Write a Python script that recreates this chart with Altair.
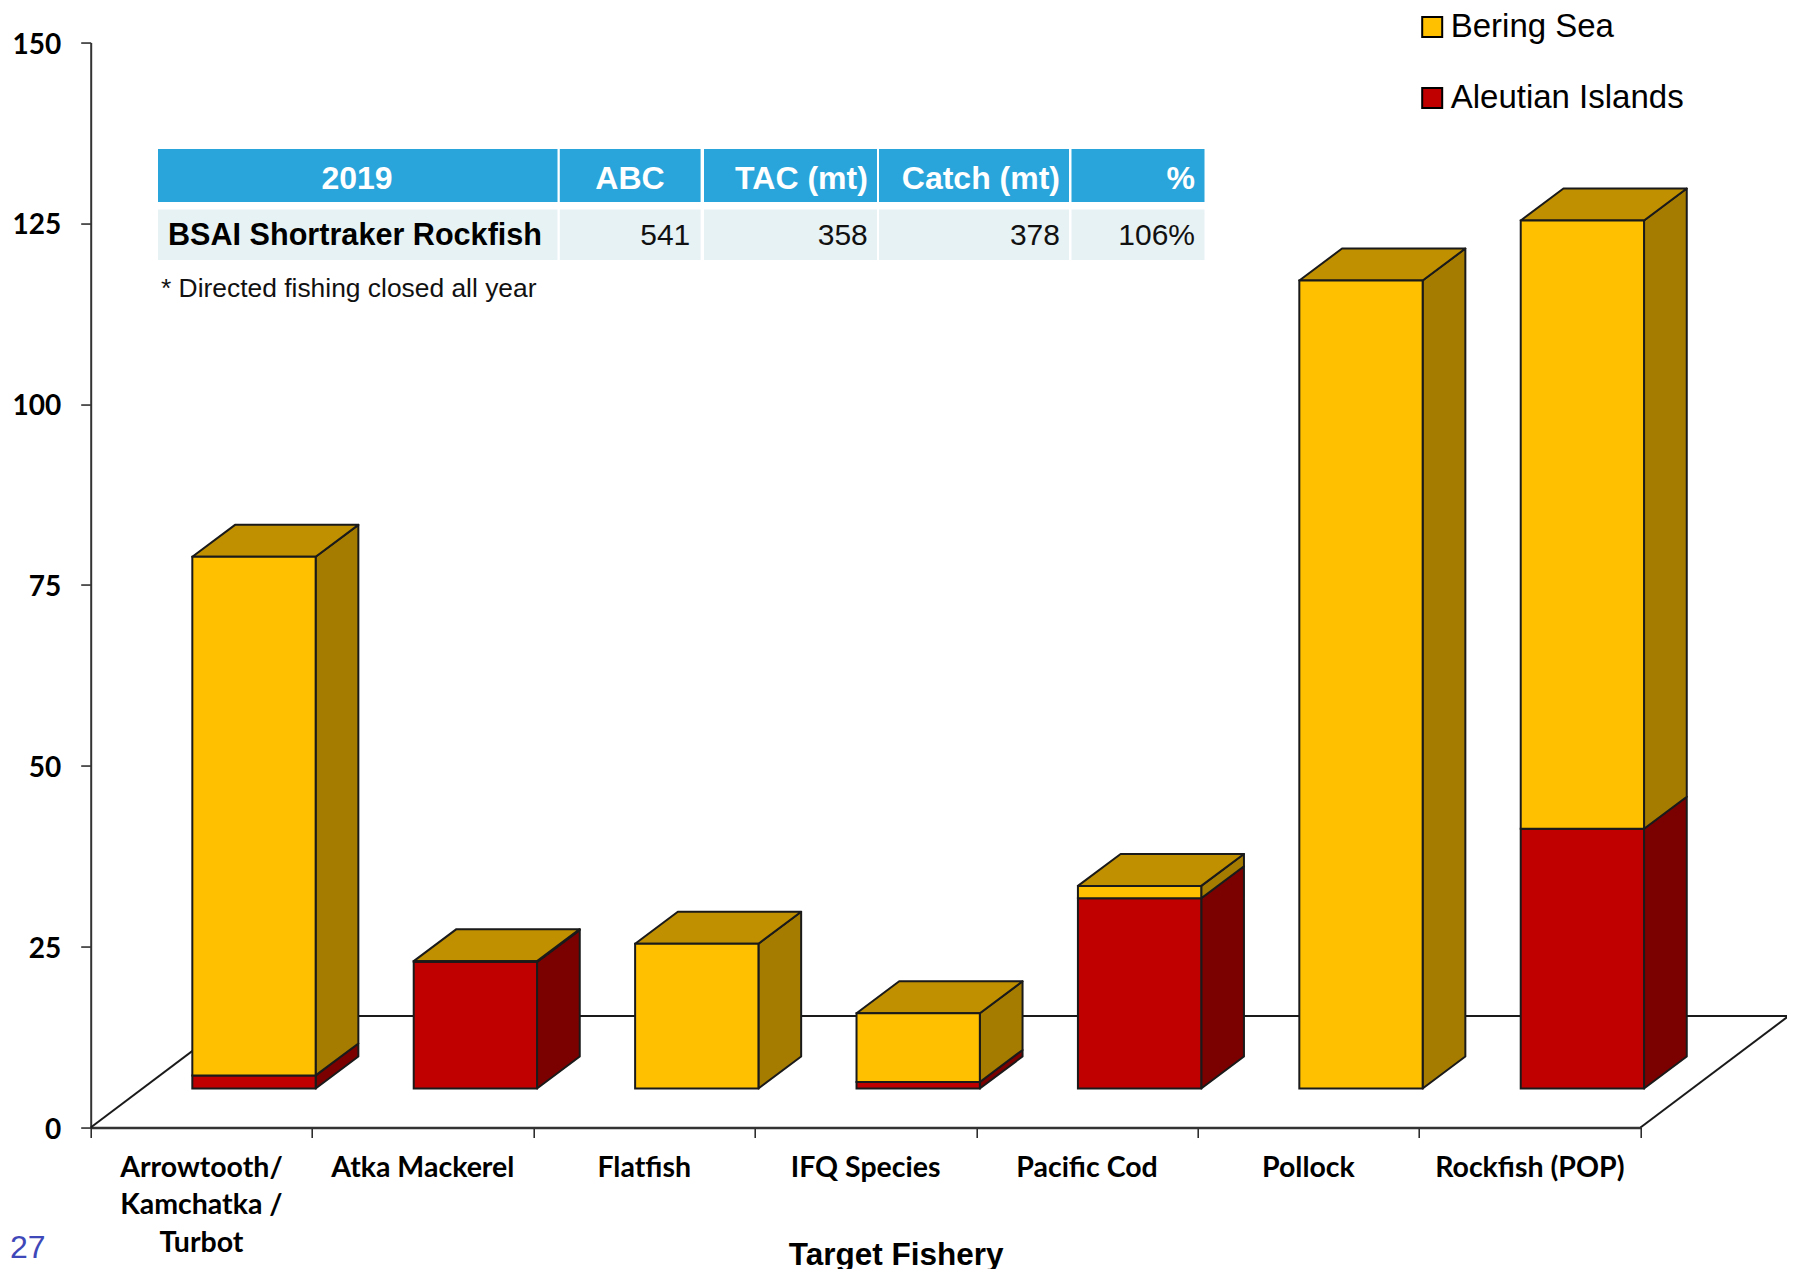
import altair as alt
import pandas as pd

# ---------- chart values ----------
fisheries = ["Arrowtooth/\nKamchatka /\nTurbot", "Atka Mackerel", "Flatfish", "IFQ Species",
             "Pacific Cod", "Pollock", "Rockfish (POP)"]
aleutian = [1.8, 17.5, 0.0, 0.9, 26.3, 0.0, 35.9]
bering = [71.7, 0.1, 20.0, 9.5, 1.7, 111.7, 84.1]
regions = ["Bering Sea", "Aleutian Islands"]
y_ticks = [0, 25, 50, 75, 100, 125, 150]

table_header = ["2019", "ABC", "TAC (mt)", "Catch (mt)", "%"]
table_row = ["BSAI Shortraker Rockfish", "541", "358", "378", "106%"]
table_note = "* Directed fishing closed all year"
page_number = "27"
x_title = "Target Fishery"

# ---------- layout (pixels on the page) ----------
X0, Y0, STEP, PPU = 90.7, 1127.5, 221.4, 7.233
W, H = 7 * STEP, 150 * PPU
def ux(px): return (px - X0) / STEP
def uy(py): return (Y0 - py) / PPU

BAR_OFF, BAR_W = 0.459, 0.557        # bar position within a category
BASE = 5.4                           # bar foot above the front floor edge
DX, DY = 0.1929, 4.42                # bar depth
FX, FY = 0.668, 15.4                 # floor depth

FRONT = {"Bering Sea": "#FFC000", "Aleutian Islands": "#C00000"}
SIDE = {"Bering Sea": "#A67C00", "Aleutian Islands": "#7B0000"}
TOP = "#C09000"
EDGE = "#1a1a1a"
SW = 2

# ---------- geometry derived from the values ----------
front_rows, side_rows, top_rows = [], [], []
for i, (a, b) in enumerate(zip(aleutian, bering)):
    xl, xr = i + BAR_OFF, i + BAR_OFF + BAR_W
    lo = BASE
    for reg, v in (("Aleutian Islands", a), ("Bering Sea", b)):
        if v <= 0:
            continue
        hi = lo + v
        front_rows.append(dict(xl=xl, xr=xr, lo=lo, hi=hi, region=reg))
        key = f"{i}-{reg}"
        side_rows += [dict(k=key, x=xr, lo=lo, hi=hi, c=SIDE[reg]),
                      dict(k=key, x=xr + DX, lo=lo + DY, hi=hi + DY, c=SIDE[reg])]
        lo = hi
    top_rows += [dict(k=str(i), x=xl, lo=lo, hi=lo),
                 dict(k=str(i), x=xl + DX, lo=lo, hi=lo + DY),
                 dict(k=str(i), x=xr, lo=lo, hi=lo + DY),
                 dict(k=str(i), x=xr + DX, lo=lo + DY, hi=lo + DY)]

floor_rows = [dict(k="left", x=0, y=0), dict(k="left", x=FX, y=FY),
              dict(k="back", x=FX, y=FY), dict(k="back", x=7 + FX, y=FY),
              dict(k="right", x=7, y=0), dict(k="right", x=7 + FX, y=FY)]

x_scale = alt.Scale(domain=[0, 7], nice=False, zero=False)
y_scale = alt.Scale(domain=[0, 150], nice=False, zero=False)
TICK_FONT = "Lato"

x_axis = alt.Axis(values=list(range(8)), labels=False, tickSize=10, tickColor="#222", tickWidth=1.5,
                  domainColor="#333", domainWidth=2.5, grid=False, title=x_title,
                  titleFont="Liberation Sans", titleFontSize=31.5, titleFontWeight="bold", titleColor="#000",
                  titleX=805, titleY=136.5, titleBaseline="alphabetic", titleAnchor="middle")
y_axis = alt.Axis(values=y_ticks, tickSize=10, tickColor="#222", tickWidth=1.5, domainColor="#333",
                  domainWidth=2, grid=False, title=None, labelFont=TICK_FONT, labelFontSize=28,
                  labelFontWeight="bold", labelColor="#000", labelPadding=20, labelOffset=2.5)

def X(f): return alt.X(f, type="quantitative", scale=x_scale, axis=x_axis)
def Y(f): return alt.Y(f, type="quantitative", scale=y_scale, axis=y_axis)

floor = alt.Chart(pd.DataFrame(floor_rows)).mark_line(color=EDGE, strokeWidth=SW).encode(
    x=X("x"), y=Y("y"), detail="k:N")

sides = alt.Chart(pd.DataFrame(side_rows)).mark_area(orient="vertical", stroke=EDGE, strokeWidth=SW,
                                                    strokeJoin="round").encode(
    x=X("x"), y=Y("lo"), y2="hi:Q", fill=alt.Fill("c:N", scale=None), detail="k:N")

tops = alt.Chart(pd.DataFrame(top_rows)).mark_area(orient="vertical", stroke=EDGE, strokeWidth=SW,
                                                  strokeJoin="round", fill=TOP).encode(
    x=X("x"), y=Y("lo"), y2="hi:Q", detail="k:N")

fronts = alt.Chart(pd.DataFrame(front_rows)).mark_bar(stroke=EDGE, strokeWidth=SW).encode(
    x=X("xl"), x2="xr:Q", y=Y("lo"), y2="hi:Q",
    color=alt.Color("region:N",
                    scale=alt.Scale(domain=regions, range=[FRONT[r] for r in regions]),
                    legend=alt.Legend(orient="none", legendX=1325, legendY=-32, title=None,
                                      symbolType="square", symbolSize=400, symbolStrokeColor="#000",
                                      symbolStrokeWidth=2, symbolOpacity=1, labelFont="Liberation Sans",
                                      labelFontSize=33, labelColor="#000", labelOffset=2, labelLimit=400,
                                      rowPadding=37, padding=0)))

# ---------- table ----------
col_edges = [(158, 557.5), (559.8, 700.6), (704, 877), (879, 1069), (1071.5, 1204.5)]
cell_rows = []
for x0, x1 in col_edges:
    cell_rows.append(dict(a=ux(x0), b=ux(x1), lo=uy(202), hi=uy(149), c="#29A5DB"))
    cell_rows.append(dict(a=ux(x0), b=ux(x1), lo=uy(260), hi=uy(209.5), c="#E7F2F5"))
cells = alt.Chart(pd.DataFrame(cell_rows)).mark_rect().encode(
    x=X("a"), x2="b:Q", y=Y("lo"), y2="hi:Q", fill=alt.Fill("c:N", scale=None))

def label(rows, **mark):
    return alt.Chart(pd.DataFrame(rows)).mark_text(**mark).encode(x=X("x"), y=Y("y"), text="t:N")

SANS = dict(font="Liberation Sans", baseline="middle")
head_y, row_y = uy(179), uy(235.5)
texts = [
    label([dict(x=ux(357), y=head_y, t=table_header[0]), dict(x=ux(630), y=head_y, t=table_header[1])],
          align="center", fontWeight="bold", fontSize=32, color="#fff", **SANS),
    label([dict(x=ux(867.8), y=head_y, t=table_header[2]), dict(x=ux(1060), y=head_y, t=table_header[3]),
           dict(x=ux(1195), y=head_y, t=table_header[4])],
          align="right", fontWeight="bold", fontSize=32, color="#fff", **SANS),
    label([dict(x=ux(168), y=row_y, t=table_row[0])], align="left", fontWeight="bold", fontSize=30.6,
          color="#000", **SANS),
    label([dict(x=ux(690.3), y=row_y, t=table_row[1]), dict(x=ux(867.8), y=row_y, t=table_row[2]),
           dict(x=ux(1060), y=row_y, t=table_row[3]), dict(x=ux(1195), y=row_y, t=table_row[4])],
          align="right", fontSize=30, color="#111", **SANS),
    label([dict(x=ux(161), y=uy(289), t=table_note)], align="left", fontSize=26.4, color="#111", **SANS),
    label([dict(x=ux(10), y=uy(1248), t=page_number)], align="left", fontSize=32, color="#3F48B8", **SANS),
    label([dict(x=i + 0.5, y=uy(1177), t=f) for i, f in enumerate(fisheries)], align="center",
          baseline="alphabetic", lineBreak="\n", lineHeight=37.4, font=TICK_FONT, fontWeight="bold",
          fontSize=28.5, color="#000"),
]

chart = alt.layer(floor, sides, tops, fronts, cells, *texts).properties(
    width=W, height=H,
    autosize=alt.AutoSizeParams(type="none"),
    padding={"left": X0 - 8, "top": Y0 - H - 8, "right": 1787 - X0 - W, "bottom": 1272 - Y0},
).configure_view(stroke=None)

chart.save("out.html", embed_options={"renderer": "svg", "actions": False})
